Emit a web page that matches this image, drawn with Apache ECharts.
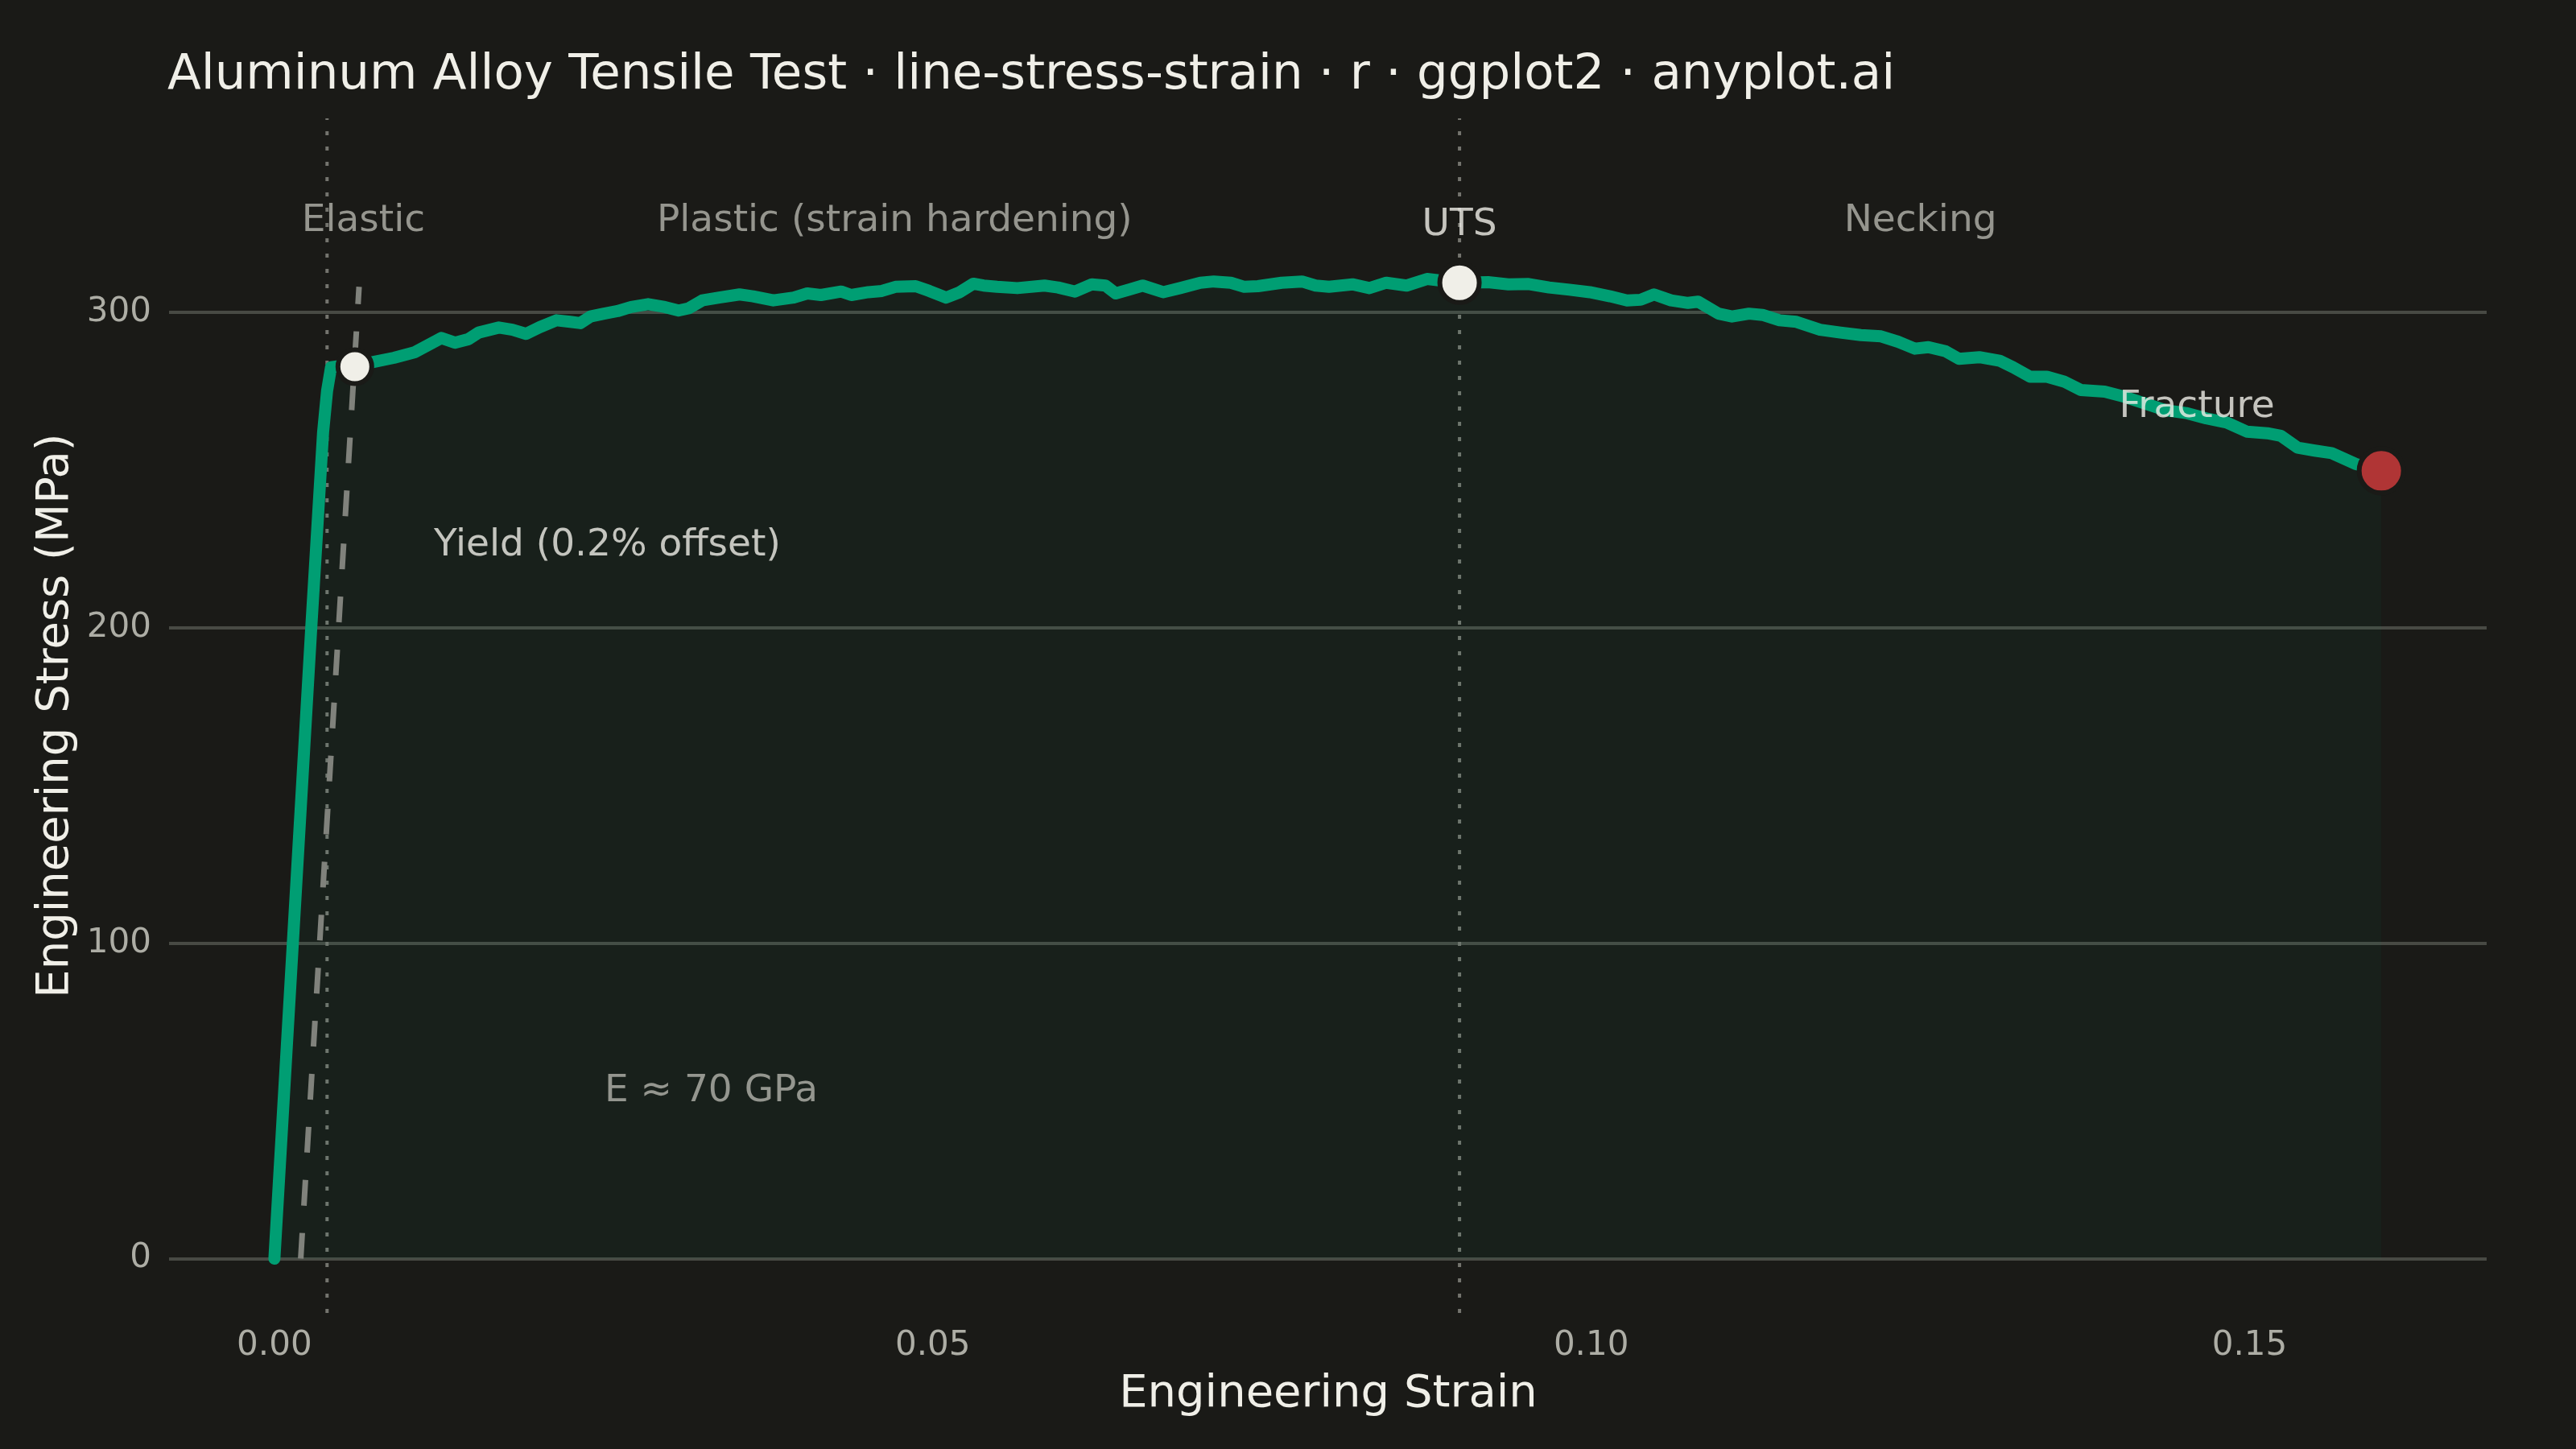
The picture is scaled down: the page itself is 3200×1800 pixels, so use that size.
<!DOCTYPE html>
<html>
<head>
<meta charset="utf-8">
<script src="https://cdn.jsdelivr.net/npm/echarts@6.0.0/dist/echarts.min.js"></script>
<style>
  html, body { margin: 0; padding: 0; background: #1a1a17; }
  #chart { width: 3200px; height: 1800px; }
</style>
</head>
<body>
<div id="chart"></div>
<script>
// ---------- data ----------
const strain = [0, 0.0014, 0.0028, 0.0037, 0.0040, 0.0043, 0.0052, 0.0061, 0.00753, 0.00907, 0.01062,
  0.01268, 0.01371, 0.01473, 0.01551, 0.01705, 0.01808, 0.01911, 0.02014, 0.02142, 0.02246,
  0.02323, 0.02400, 0.02503, 0.02606, 0.02709, 0.02838, 0.02966, 0.03069, 0.03146, 0.03249,
  0.03378, 0.03532, 0.03635, 0.03789, 0.03944, 0.04047, 0.04150, 0.04304, 0.04381, 0.04510,
  0.04613, 0.04716, 0.04870, 0.04973, 0.05102, 0.05205, 0.05308, 0.05385, 0.05488, 0.05642,
  0.05848, 0.05951, 0.06080, 0.06208, 0.06311, 0.06389, 0.06491, 0.06594, 0.06749, 0.06878,
  0.07032, 0.07134, 0.07263, 0.07366, 0.07469, 0.07649, 0.07804, 0.07907, 0.08009, 0.08187,
  0.08315, 0.08444, 0.08598, 0.08753, 0.09000, 0.09216, 0.09371, 0.09525, 0.09680, 0.09834,
  0.09989, 0.10143, 0.10272, 0.10375, 0.10477, 0.10606, 0.10735, 0.10812, 0.10967, 0.11069,
  0.11198, 0.11301, 0.11430, 0.11558, 0.11738, 0.11892, 0.12047, 0.12201, 0.12330, 0.12458,
  0.12561, 0.12690, 0.12793, 0.12947, 0.13101, 0.13204, 0.13333, 0.13461, 0.13590, 0.13719,
  0.13899, 0.14053, 0.14208, 0.14362, 0.14517, 0.14671, 0.14826, 0.14980, 0.15134, 0.15237,
  0.15365, 0.15494, 0.15623, 0.15803, 0.16000];
const stress = [0, 100, 200, 262, 275, 282.5, 283, 283, 284.2, 285.5, 287.2,
  291.8, 290.3, 291.4, 293.5, 295.1, 294.4, 293.1, 295.2, 297.4, 296.9,
  296.5, 298.6, 299.5, 300.3, 301.6, 302.5, 301.6, 300.5, 301.2, 303.7,
  304.6, 305.6, 305.0, 303.7, 304.6, 305.9, 305.4, 306.5, 305.4, 306.3,
  306.7, 308.0, 308.2, 306.7, 304.6, 306.3, 309.0, 308.4, 308.0, 307.6,
  308.4, 307.8, 306.5, 308.8, 308.4, 305.9, 307.1, 308.4, 306.3, 307.6,
  309.3, 309.7, 309.3, 308.0, 308.2, 309.3, 309.7, 308.4, 308.0, 308.8,
  307.6, 309.3, 308.4, 310.5, 309.3, 309.5, 308.8, 308.9, 307.8, 307.1,
  306.3, 305.0, 303.7, 303.9, 305.6, 303.7, 302.9, 303.3, 299.5, 298.6,
  299.5, 299.1, 297.4, 296.9, 294.4, 293.5, 292.7, 292.3, 290.6, 288.4,
  288.9, 287.6, 285.2, 285.7, 284.6, 282.5, 279.5, 279.5, 278.0, 275.3,
  274.8, 273.1, 271.0, 268.9, 268.0, 266.3, 265.0, 262.1, 261.6, 260.8,
  257.0, 256.1, 255.3, 251.9, 249.7];

const offsetStrain = [0.002, 0.00643];
const offsetStress = [0, 308];

const regionBounds = [0.004, 0.09];

const yieldPoint = [0.00611, 282.7];
const utsPoint = [0.0900, 309.3];
const fracturePoint = [0.1600, 249.7];

const xTicks = [0, 0.05, 0.10, 0.15];
const yTicks = [0, 100, 200, 300];

const regionLabels = ['Elastic', 'Plastic (strain hardening)', 'Necking'];
const regionLabelX = [0.00676, 0.0471, 0.125];
const regionLabelY = [328.9, 328.9, 328.9];

const pointLabels = ['UTS', 'Fracture'];
const pointLabelX = [0.0900, 0.146];
const pointLabelY = [327.5, 269.9];

const yieldLabel = ['Yield (0.2% offset)', 0.01211, 226.0];
const modulusLabel = ['E \u2248 70 GPa', 0.02507, 53.0];

const yRange = [-17.2, 361.4];
const xRange = [-0.008, 0.168];

// ---------- styling ----------
const BG = '#1a1a17';
const INK = '#f0efe8';
const MUTED = '#b4b4ac';
const TICK = '#adada5';
const FONT = 'DejaVu Sans';

const curve = strain.map((s, i) => [s, stress[i]]);
const offsetLine = offsetStrain.map((s, i) => [s, offsetStress[i]]);

const chart = echarts.init(document.getElementById('chart'), null, { renderer: 'canvas' });

const boundSeries = regionBounds.map(v => ({
  type: 'line',
  data: [[v, yRange[0]], [v, yRange[1]]],
  symbol: 'none',
  silent: true,
  lineStyle: { color: '#74746e', width: 4, type: [5, 14] },
  z: 1
}));

chart.setOption({
  backgroundColor: BG,
  animation: false,
  title: {
    text: 'Aluminum Alloy Tensile Test \u00b7 line-stress-strain \u00b7 r \u00b7 ggplot2 \u00b7 anyplot.ai',
    left: 208,
    top: 64,
    padding: 0,
    textStyle: { color: INK, fontFamily: FONT, fontSize: 61, fontWeight: 'normal' }
  },
  grid: { left: 210, right: 111, top: 147, bottom: 169, containLabel: false },
  xAxis: {
    type: 'value',
    min: xRange[0],
    max: xRange[1],
    axisLine: { show: false },
    axisTick: { show: false, customValues: xTicks },
    splitLine: { show: false },
    axisLabel: {
      customValues: xTicks,
      formatter: v => v.toFixed(2),
      color: TICK, fontFamily: FONT, fontSize: 42, margin: 20
    }
  },
  yAxis: {
    type: 'value',
    min: yRange[0],
    max: yRange[1],
    axisLine: { show: false },
    axisTick: { show: false, customValues: yTicks },
    splitLine: { show: true, lineStyle: { color: '#484a44', width: 4 } },
    axisLabel: {
      customValues: yTicks,
      color: TICK, fontFamily: FONT, fontSize: 42, margin: 22,
      padding: [8, 0, 0, 0]
    }
  },
  graphic: [
    {
      type: 'text', x: 1650, y: 1732,
      style: { text: 'Engineering Strain', fill: INK, font: '56px "DejaVu Sans"', textAlign: 'center', textVerticalAlign: 'middle' }
    },
    {
      type: 'text', x: 69, y: 889, rotation: Math.PI / 2,
      style: { text: 'Engineering Stress (MPa)', fill: INK, font: '56px "DejaVu Sans"', textAlign: 'center', textVerticalAlign: 'middle' }
    }
  ],
  series: boundSeries.concat([
    {
      type: 'line',
      name: 'curve',
      data: curve,
      showSymbol: false,
      symbol: 'none',
      lineStyle: { color: '#009e73', width: 15, join: 'round', cap: 'round' },
      areaStyle: { color: 'rgba(0,158,115,0.075)', origin: 0 },
      z: 3
    },
    {
      type: 'line',
      name: 'offset',
      data: offsetLine,
      symbol: 'none',
      lineStyle: { color: '#80827c', width: 7, type: [32, 34] },
      z: 4
    },
    {
      type: 'scatter',
      data: [yieldPoint],
      symbolSize: 42,
      itemStyle: { color: INK, borderColor: BG, borderWidth: 6, opacity: 1 },
      z: 6
    },
    {
      type: 'scatter',
      data: [utsPoint],
      symbolSize: 49,
      itemStyle: { color: INK, borderColor: BG, borderWidth: 6, opacity: 1 },
      z: 6
    },
    {
      type: 'scatter',
      data: [fracturePoint],
      symbolSize: 55,
      itemStyle: { color: '#b03535', borderColor: BG, borderWidth: 6, opacity: 1 },
      z: 6
    },
    {
      type: 'scatter',
      symbolSize: 0,
      silent: true,
      data: regionLabels.map((t, i) => ({ name: t, value: [regionLabelX[i], regionLabelY[i]] })),
      label: {
        show: true, position: 'inside', formatter: p => p.name,
        color: MUTED, fontFamily: FONT, fontSize: 47
      },
      z: 7
    },
    {
      type: 'scatter',
      symbolSize: 0,
      silent: true,
      data: pointLabels.map((t, i) => ({ name: t, value: [pointLabelX[i], pointLabelY[i]] })),
      label: {
        show: true, position: 'inside', formatter: p => p.name,
        color: INK, fontFamily: FONT, fontSize: 47
      },
      z: 7
    },
    {
      type: 'scatter',
      symbolSize: 0,
      silent: true,
      data: [{ name: yieldLabel[0], value: [yieldLabel[1], yieldLabel[2]] }],
      label: {
        show: true, position: 'right', distance: 0, formatter: p => p.name,
        color: INK, fontFamily: FONT, fontSize: 47
      },
      z: 7
    },
    {
      type: 'scatter',
      symbolSize: 0,
      silent: true,
      data: [{ name: modulusLabel[0], value: [modulusLabel[1], modulusLabel[2]] }],
      label: {
        show: true, position: 'right', distance: 0, formatter: p => p.name,
        color: MUTED, fontFamily: FONT, fontSize: 47
      },
      z: 7
    }
  ])
});
</script>
</body>
</html>
